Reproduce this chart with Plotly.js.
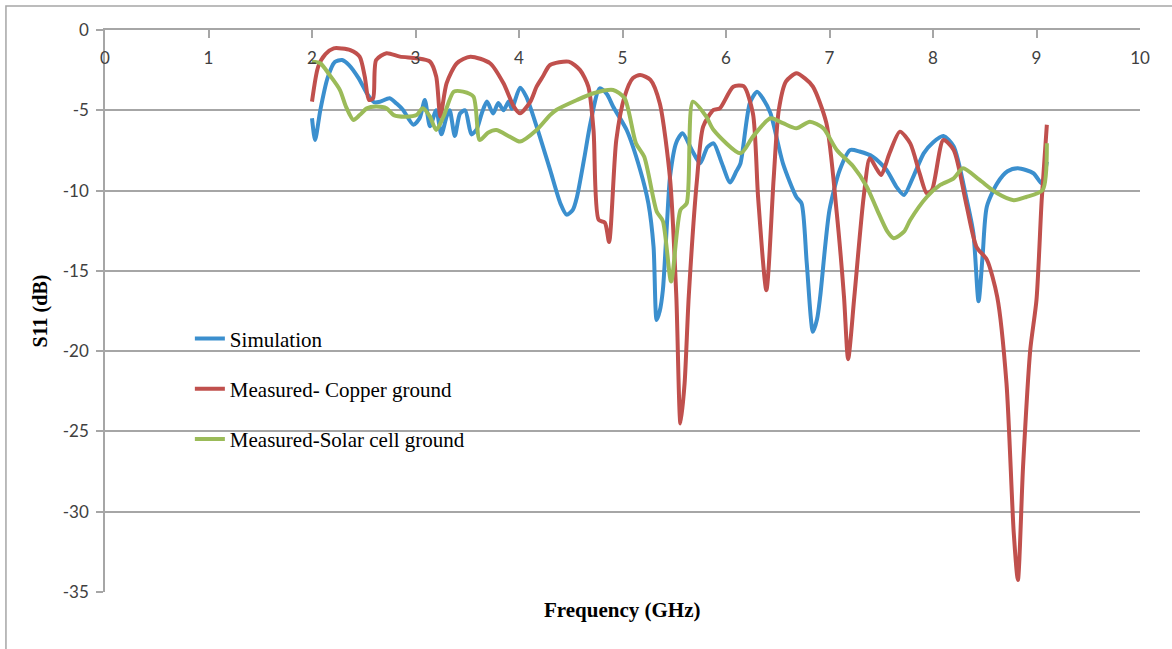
<!DOCTYPE html>
<html>
<head>
<meta charset="utf-8">
<script src="https://cdn.plot.ly/plotly-3.0.1.min.js"></script>
<style>
  html, body { margin: 0; padding: 0; background: #ffffff; }
  #chart { width: 1172px; height: 649px; }
</style>
</head>
<body>
<div id="chart"></div>
<script>
// Return loss S11 (dB) versus frequency (GHz)
const simFreq = [2.00, 2.03, 2.08, 2.15, 2.22, 2.29, 2.36, 2.45, 2.53, 2.60, 2.66, 2.75, 2.82, 2.88, 2.98, 3.04, 3.09, 3.14, 3.20, 3.25, 3.30, 3.33, 3.38, 3.43, 3.48, 3.54, 3.59, 3.64, 3.69, 3.75, 3.80, 3.85, 3.90, 3.93, 4.01, 4.07, 4.17, 4.30, 4.40, 4.46, 4.52, 4.56, 4.63, 4.69, 4.78, 4.85, 4.91, 5.04, 5.17, 5.25, 5.30, 5.33, 5.36, 5.39, 5.43, 5.46, 5.52, 5.58, 5.67, 5.75, 5.82, 5.88, 5.96, 6.04, 6.10, 6.14, 6.23, 6.30, 6.36, 6.43, 6.55, 6.68, 6.73, 6.78, 6.84, 6.88, 6.91, 7.00, 7.10, 7.20, 7.29, 7.42, 7.55, 7.65, 7.72, 7.81, 7.91, 8.00, 8.10, 8.20, 8.32, 8.39, 8.44, 8.48, 8.52, 8.62, 8.72, 8.82, 8.97, 9.05, 9.10];
const simS11 = [-5.5, -6.85, -5.0, -3.0, -2.0, -1.87, -2.2, -3.0, -3.94, -4.5, -4.46, -4.25, -4.6, -4.98, -5.9, -5.5, -4.36, -6.0, -5.0, -6.5, -5.4, -5.0, -6.6, -5.2, -5.0, -6.5, -6.2, -5.2, -4.46, -5.2, -4.55, -5.0, -4.46, -4.9, -3.6, -4.15, -6.0, -8.7, -10.8, -11.5, -11.2, -10.4, -8.0, -5.8, -3.63, -4.0, -4.78, -6.23, -8.7, -10.8, -13.5, -18.06, -17.5, -16.2, -12.0, -9.1, -7.0, -6.43, -7.47, -8.3, -7.3, -7.06, -8.3, -9.5, -8.8, -8.3, -4.56, -3.84, -4.3, -5.19, -8.3, -10.4, -10.8, -14.5, -18.8, -18.0, -16.6, -11.2, -8.7, -7.47, -7.57, -7.9, -8.7, -9.8, -10.27, -9.13, -7.68, -7.0, -6.6, -7.26, -10.4, -12.66, -16.9, -14.0, -11.0, -9.55, -8.8, -8.61, -8.92, -9.55, -8.2];

const copperFreq = [2.00, 2.06, 2.13, 2.21, 2.29, 2.37, 2.46, 2.51, 2.55, 2.59, 2.62, 2.72, 2.85, 3.01, 3.14, 3.20, 3.24, 3.30, 3.40, 3.53, 3.72, 3.85, 3.95, 4.01, 4.11, 4.17, 4.23, 4.30, 4.48, 4.59, 4.67, 4.72, 4.77, 4.83, 4.87, 4.94, 5.02, 5.10, 5.17, 5.27, 5.36, 5.46, 5.52, 5.56, 5.60, 5.64, 5.72, 5.78, 5.88, 5.94, 6.07, 6.17, 6.26, 6.31, 6.39, 6.46, 6.51, 6.58, 6.68, 6.76, 6.84, 6.97, 7.07, 7.14, 7.18, 7.24, 7.33, 7.39, 7.46, 7.50, 7.58, 7.68, 7.78, 7.87, 7.94, 7.99, 8.10, 8.20, 8.32, 8.42, 8.52, 8.62, 8.71, 8.78, 8.82, 8.87, 8.94, 9.00, 9.05, 9.10];
const copperS11 = [-4.46, -2.28, -1.5, -1.14, -1.15, -1.25, -1.66, -2.9, -4.36, -4.25, -1.87, -1.45, -1.66, -1.76, -1.97, -2.9, -5.4, -3.32, -2.07, -1.66, -2.07, -3.32, -4.77, -5.19, -4.46, -3.53, -2.9, -2.18, -1.97, -2.5, -3.53, -6.23, -11.83, -12.0, -13.2, -6.85, -4.15, -3.0, -2.8, -3.1, -4.56, -9.3, -16.6, -24.5, -22.0, -16.6, -9.3, -6.0, -4.98, -4.88, -3.53, -3.5, -5.19, -10.4, -16.2, -9.3, -4.98, -3.2, -2.7, -3.0, -3.53, -5.8, -11.4, -16.6, -20.5, -16.6, -10.4, -7.99, -8.7, -9.03, -7.68, -6.33, -7.06, -8.92, -10.17, -9.96, -6.85, -7.47, -10.8, -13.5, -14.3, -16.6, -22.0, -31.3, -34.25, -27.2, -19.9, -16.8, -10.6, -5.9];

const solarFreq = [2.00, 2.08, 2.17, 2.27, 2.33, 2.40, 2.46, 2.53, 2.62, 2.72, 2.79, 2.91, 3.01, 3.07, 3.14, 3.20, 3.27, 3.37, 3.46, 3.56, 3.62, 3.70, 3.78, 3.91, 4.01, 4.17, 4.30, 4.36, 4.56, 4.72, 4.91, 5.02, 5.13, 5.21, 5.33, 5.39, 5.47, 5.56, 5.62, 5.68, 5.81, 5.88, 6.14, 6.26, 6.43, 6.55, 6.68, 6.81, 6.94, 7.07, 7.23, 7.36, 7.46, 7.56, 7.62, 7.72, 7.78, 7.94, 8.07, 8.20, 8.29, 8.45, 8.62, 8.78, 8.90, 9.06, 9.10];
const solarS11 = [-1.97, -2.07, -2.8, -3.74, -4.8, -5.6, -5.3, -4.88, -4.77, -4.88, -5.3, -5.4, -5.3, -4.88, -5.4, -6.23, -5.4, -3.84, -3.84, -4.15, -6.85, -6.4, -6.23, -6.64, -6.95, -6.23, -5.3, -4.98, -4.36, -3.94, -3.74, -4.25, -7.06, -7.9, -11.3, -11.9, -15.67, -11.2, -10.8, -4.46, -5.4, -6.23, -7.68, -6.64, -5.5, -5.8, -6.12, -5.71, -6.12, -7.47, -8.5, -9.76, -11.2, -12.56, -12.97, -12.56, -11.83, -10.4, -9.65, -9.24, -8.61, -9.34, -10.17, -10.6, -10.4, -9.96, -7.06];

const seriesNames = ['Simulation', 'Measured- Copper ground', 'Measured-Solar cell ground'];
const xTicks = [0, 1, 2, 3, 4, 5, 6, 7, 8, 9, 10];
const yTicks = [0, -5, -10, -15, -20, -25, -30, -35];

const serif = 'Liberation Serif, Times New Roman, serif';
const axisGray = '#a6a6a6';
const tickFont = { family: 'Lato, sans-serif', size: 17, color: '#404040' };

function curve(x, y, name, color, group) {
  return {
    type: 'scatter', mode: 'lines', x: x, y: y, name: name,
    legendgroup: group,
    line: { color: color, width: 4, shape: 'spline', smoothing: 0.7 },
    hoverinfo: 'x+y+name'
  };
}

const traces = [
  curve(simFreq, simS11, seriesNames[0], '#3b8fce', 'g1'),
  curve(copperFreq, copperS11, seriesNames[1], '#c0504d', 'g2'),
  curve(solarFreq, solarS11, seriesNames[2], '#9bbb59', 'g3'),
  // empty carrier so the frequency label axis gets drawn
  { type: 'scatter', mode: 'lines', x: [], y: [], xaxis: 'x2', yaxis: 'y',
    showlegend: false, hoverinfo: 'skip' }
];

const layout = {
  width: 1172, height: 649,
  margin: { l: 105, r: 32, t: 30, b: 57 },
  paper_bgcolor: '#ffffff', plot_bgcolor: '#ffffff',
  showlegend: true,
  legend: {
    x: 0.082, xanchor: 'left', y: 0.487, yanchor: 'top',
    bgcolor: 'rgba(0,0,0,0)', borderwidth: 0,
    font: { family: serif, size: 21, color: '#000000' },
    traceorder: 'grouped', tracegroupgap: 20
  },
  // frequency axis line sits at S11 = 0 along the top edge
  xaxis: {
    range: [0, 10], side: 'top',
    tickvals: xTicks, showticklabels: false,
    ticks: 'inside', ticklen: 8, tickcolor: axisGray, tickwidth: 1.5,
    showline: true, linecolor: axisGray, linewidth: 1.5,
    showgrid: false, zeroline: false
  },
  // frequency labels hang just below that line
  xaxis2: {
    range: [0, 10], overlaying: 'x', anchor: 'free', position: 0.9715, side: 'bottom',
    tickvals: xTicks, ticktext: xTicks.map(String),
    ticks: '', showline: false, showgrid: false, zeroline: false,
    tickfont: tickFont
  },
  yaxis: {
    range: [-35, 0],
    tickvals: yTicks, ticktext: yTicks.map(String),
    ticks: 'outside', ticklen: 7, tickcolor: axisGray, tickwidth: 1.5,
    ticklabelstandoff: 4,
    showline: true, linecolor: axisGray, linewidth: 1.5,
    showgrid: true, gridcolor: axisGray, gridwidth: 1.5,
    zeroline: false,
    tickfont: tickFont,
    title: { text: 'S11 (dB)', standoff: 10, font: { family: serif, size: 20, color: '#000000', weight: 'bold' } }
  },
  annotations: [{
    xref: 'paper', yref: 'paper', x: 0.5, y: -0.032,
    xanchor: 'center', yanchor: 'middle', showarrow: false,
    text: '<b>Frequency (GHz)</b>',
    font: { family: serif, size: 21, color: '#000000' }
  }],
  shapes: [{
    type: 'rect', xref: 'paper', yref: 'paper', layer: 'below',
    x0: -0.0957, x1: 1.1, y0: -0.2, y1: 1.0427,
    line: { color: axisGray, width: 1.5 }, fillcolor: 'rgba(0,0,0,0)'
  }]
};

Plotly.newPlot('chart', traces, layout, { displayModeBar: false });
</script>
</body>
</html>
